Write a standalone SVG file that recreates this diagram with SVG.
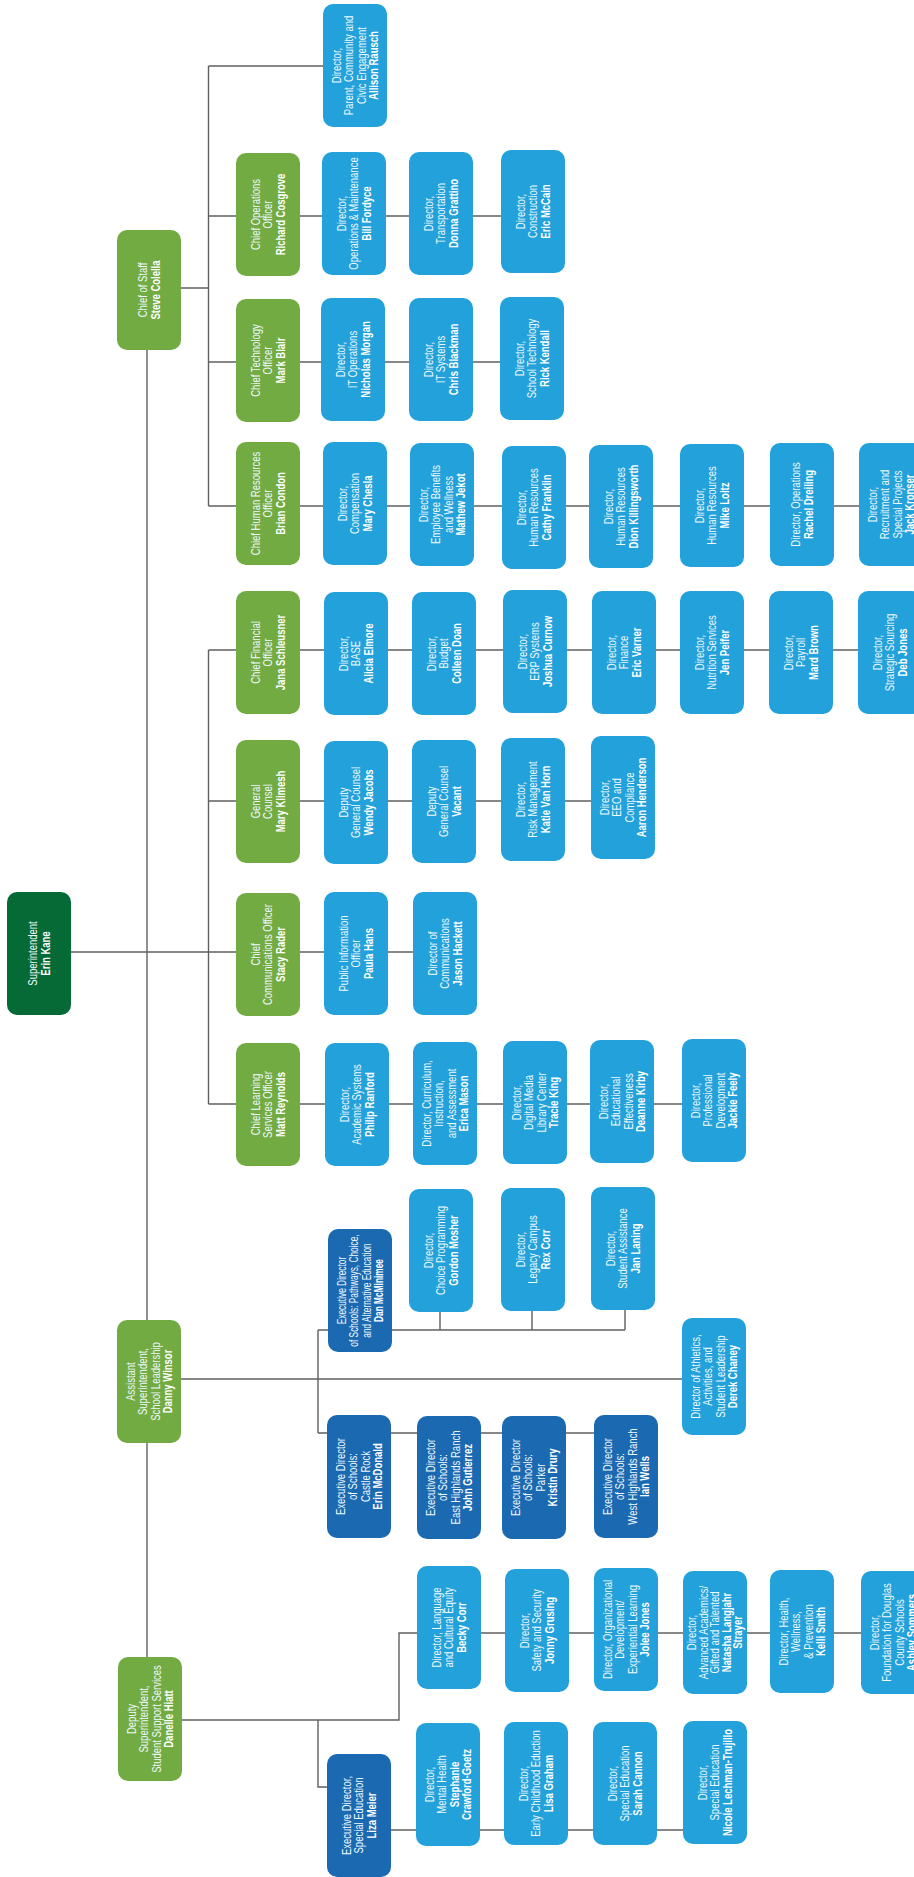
<svg xmlns="http://www.w3.org/2000/svg" width="914" height="1877" viewBox="0 0 914 1877">
<style>
.gd{fill:#066a37}.g{fill:#72ab42}.b{fill:#22a1da}.db{fill:#1b69b1}
text{font-family:"Liberation Sans",Arial,sans-serif;font-size:13px;fill:#fff;text-anchor:middle}
.t{fill:#eef8fd}
.n{font-weight:bold;fill:#fff}
.c path{stroke:#606060;stroke-width:1.4;fill:none}
</style>
<rect width="914" height="1877" fill="#fff"/>
<g id="connectors" class="c">
<path d="M147 350V1657"/>
<path d="M181 288H208.5M208.5 66V506M208.5 66H323M208.5 216H501M208.5 362H500M208.5 506H859"/>
<path d="M71 952H413M208.5 650V1104M208.5 650H858M208.5 801H591M208.5 1104H682"/>
<path d="M181 1379H682M318 1330V1433M318 1330H625M440 1312V1330M532 1311V1330M625 1309V1330M318 1433H594"/>
<path d="M182 1720H399V1633H861M318 1720V1787H327M391 1830H683"/>
</g>

<g id="superintendent"><rect class="gd" x="7" y="892" width="64" height="123" rx="10"/>
<text transform="translate(39,953.5) rotate(-90) scale(.73,1)"><tspan class="t" x="0" y="-2">Superintendent</tspan><tspan class="n" x="0" y="10.5">Erin Kane</tspan></text></g>

<g id="chief-of-staff"><rect class="g" x="117" y="230" width="64" height="120" rx="10"/>
<text transform="translate(149,290) rotate(-90) scale(.73,1)"><tspan class="t" x="0" y="-2">Chief of Staff</tspan><tspan class="n" x="0" y="10.5">Steve Colella</tspan></text></g>

<g id="asst-supt"><rect class="g" x="117" y="1320" width="64" height="123" rx="10"/>
<text transform="translate(149,1381.5) rotate(-90) scale(.73,1)"><tspan class="t" x="0" y="-14.5">Assistant</tspan><tspan class="t" x="0" y="-2">Superintendent,</tspan><tspan class="t" x="0" y="10.5">School Leadership</tspan><tspan class="n" x="0" y="23">Danny Winsor</tspan></text></g>

<g id="deputy-supt"><rect class="g" x="118" y="1657" width="64" height="124" rx="10"/>
<text transform="translate(150,1719) rotate(-90) scale(.73,1)"><tspan class="t" x="0" y="-14.5">Deputy</tspan><tspan class="t" x="0" y="-2">Superintendent,</tspan><tspan class="t" x="0" y="10.5">Student Support Services</tspan><tspan class="n" x="0" y="23">Danelle Hiatt</tspan></text></g>

<g id="coo"><rect class="g" x="236" y="153" width="64" height="123" rx="10"/>
<text transform="translate(268,214.5) rotate(-90) scale(.73,1)"><tspan class="t" x="0" y="-8.25">Chief Operations</tspan><tspan class="t" x="0" y="4.25">Officer</tspan><tspan class="n" x="0" y="16.75">Richard Cosgrove</tspan></text></g>

<g id="cto"><rect class="g" x="236" y="299" width="64" height="123" rx="10"/>
<text transform="translate(268,360.5) rotate(-90) scale(.73,1)"><tspan class="t" x="0" y="-8.25">Chief Technology</tspan><tspan class="t" x="0" y="4.25">Officer</tspan><tspan class="n" x="0" y="16.75">Mark Blair</tspan></text></g>

<g id="chro"><rect class="g" x="236" y="442" width="64" height="123" rx="10"/>
<text transform="translate(268,503.5) rotate(-90) scale(.73,1)"><tspan class="t" x="0" y="-8.25">Chief Human Resources</tspan><tspan class="t" x="0" y="4.25">Officer</tspan><tspan class="n" x="0" y="16.75">Brian Condon</tspan></text></g>

<g id="cfo"><rect class="g" x="236" y="591" width="64" height="123" rx="10"/>
<text transform="translate(268,652.5) rotate(-90) scale(.73,1)"><tspan class="t" x="0" y="-8.25">Chief Financial</tspan><tspan class="t" x="0" y="4.25">Officer</tspan><tspan class="n" x="0" y="16.75">Jana Schleusner</tspan></text></g>

<g id="gc"><rect class="g" x="236" y="740" width="64" height="123" rx="10"/>
<text transform="translate(268,801.5) rotate(-90) scale(.73,1)"><tspan class="t" x="0" y="-8.25">General</tspan><tspan class="t" x="0" y="4.25">Counsel</tspan><tspan class="n" x="0" y="16.75">Mary Klimesh</tspan></text></g>

<g id="cco"><rect class="g" x="236" y="893" width="64" height="123" rx="10"/>
<text transform="translate(268,954.5) rotate(-90) scale(.73,1)"><tspan class="t" x="0" y="-8.25">Chief</tspan><tspan class="t" x="0" y="4.25">Communications Officer</tspan><tspan class="n" x="0" y="16.75">Stacy Rader</tspan></text></g>

<g id="clso"><rect class="g" x="236" y="1043" width="64" height="123" rx="10"/>
<text transform="translate(268,1104.5) rotate(-90) scale(.73,1)"><tspan class="t" x="0" y="-8.25">Chief Learning</tspan><tspan class="t" x="0" y="4.25">Services Officer</tspan><tspan class="n" x="0" y="16.75">Matt Reynolds</tspan></text></g>

<g id="allison-rausch"><rect class="b" x="323" y="4" width="64" height="123" rx="10"/>
<text transform="translate(355,65.5) rotate(-90) scale(.73,1)"><tspan class="t" x="0" y="-14.5">Director,</tspan><tspan class="t" x="0" y="-2">Parent, Community and</tspan><tspan class="t" x="0" y="10.5">Civic Engagement</tspan><tspan class="n" x="0" y="23">Allison Rausch</tspan></text></g>

<g id="bill-fordyce"><rect class="b" x="322" y="152" width="64" height="123" rx="10"/>
<text transform="translate(354,213.5) rotate(-90) scale(.73,1)"><tspan class="t" x="0" y="-8.25">Director,</tspan><tspan class="t" x="0" y="4.25">Operations &amp; Maintenance</tspan><tspan class="n" x="0" y="16.75">Bill Fordyce</tspan></text></g>

<g id="donna-grattino"><rect class="b" x="409" y="152" width="64" height="123" rx="10"/>
<text transform="translate(441,213.5) rotate(-90) scale(.73,1)"><tspan class="t" x="0" y="-8.25">Director,</tspan><tspan class="t" x="0" y="4.25">Transportation</tspan><tspan class="n" x="0" y="16.75">Donna Grattino</tspan></text></g>

<g id="eric-mccain"><rect class="b" x="501" y="150" width="64" height="123" rx="10"/>
<text transform="translate(533,211.5) rotate(-90) scale(.73,1)"><tspan class="t" x="0" y="-8.25">Director,</tspan><tspan class="t" x="0" y="4.25">Construction</tspan><tspan class="n" x="0" y="16.75">Eric McCain</tspan></text></g>

<g id="nicholas-morgan"><rect class="b" x="321" y="298" width="64" height="123" rx="10"/>
<text transform="translate(353,359.5) rotate(-90) scale(.73,1)"><tspan class="t" x="0" y="-8.25">Director,</tspan><tspan class="t" x="0" y="4.25">IT Operations</tspan><tspan class="n" x="0" y="16.75">Nicholas Morgan</tspan></text></g>

<g id="chris-blackman"><rect class="b" x="409" y="298" width="64" height="123" rx="10"/>
<text transform="translate(441,359.5) rotate(-90) scale(.73,1)"><tspan class="t" x="0" y="-8.25">Director,</tspan><tspan class="t" x="0" y="4.25">IT Systems</tspan><tspan class="n" x="0" y="16.75">Chris Blackman</tspan></text></g>

<g id="rick-kendall"><rect class="b" x="500" y="297" width="64" height="123" rx="10"/>
<text transform="translate(532,358.5) rotate(-90) scale(.73,1)"><tspan class="t" x="0" y="-8.25">Director,</tspan><tspan class="t" x="0" y="4.25">School Technology</tspan><tspan class="n" x="0" y="16.75">Rick Kendall</tspan></text></g>

<g id="mary-chesla"><rect class="b" x="323" y="442" width="64" height="123" rx="10"/>
<text transform="translate(355,503.5) rotate(-90) scale(.73,1)"><tspan class="t" x="0" y="-8.25">Director,</tspan><tspan class="t" x="0" y="4.25">Compensation</tspan><tspan class="n" x="0" y="16.75">Mary Chesla</tspan></text></g>

<g id="mathew-jekot"><rect class="b" x="410" y="443" width="64" height="123" rx="10"/>
<text transform="translate(442,504.5) rotate(-90) scale(.73,1)"><tspan class="t" x="0" y="-14.5">Director,</tspan><tspan class="t" x="0" y="-2">Employee Benefits</tspan><tspan class="t" x="0" y="10.5">and Wellness</tspan><tspan class="n" x="0" y="23">Mathew Jekot</tspan></text></g>

<g id="cathy-franklin"><rect class="b" x="502" y="446" width="64" height="123" rx="10"/>
<text transform="translate(534,507.5) rotate(-90) scale(.73,1)"><tspan class="t" x="0" y="-8.25">Director,</tspan><tspan class="t" x="0" y="4.25">Human Resources</tspan><tspan class="n" x="0" y="16.75">Cathy Franklin</tspan></text></g>

<g id="dion-killingsworth"><rect class="b" x="589" y="445" width="64" height="123" rx="10"/>
<text transform="translate(621,506.5) rotate(-90) scale(.73,1)"><tspan class="t" x="0" y="-8.25">Director,</tspan><tspan class="t" x="0" y="4.25">Human Resources</tspan><tspan class="n" x="0" y="16.75">Dion Killingsworth</tspan></text></g>

<g id="mike-loitz"><rect class="b" x="680" y="444" width="64" height="123" rx="10"/>
<text transform="translate(712,505.5) rotate(-90) scale(.73,1)"><tspan class="t" x="0" y="-8.25">Director,</tspan><tspan class="t" x="0" y="4.25">Human Resources</tspan><tspan class="n" x="0" y="16.75">Mike Loitz</tspan></text></g>

<g id="rachel-dreiling"><rect class="b" x="770" y="443" width="64" height="123" rx="10"/>
<text transform="translate(802,504.5) rotate(-90) scale(.73,1)"><tspan class="t" x="0" y="-2">Director, Operations</tspan><tspan class="n" x="0" y="10.5">Rachel Dreiling</tspan></text></g>

<g id="jack-kronser"><rect class="b" x="859" y="443" width="64" height="123" rx="10"/>
<text transform="translate(891,504.5) rotate(-90) scale(.73,1)"><tspan class="t" x="0" y="-14.5">Director,</tspan><tspan class="t" x="0" y="-2">Recruitment and</tspan><tspan class="t" x="0" y="10.5">Special Projects</tspan><tspan class="n" x="0" y="23">Jack Kronser</tspan></text></g>

<g id="alicia-elmore"><rect class="b" x="324" y="592" width="64" height="123" rx="10"/>
<text transform="translate(356,653.5) rotate(-90) scale(.73,1)"><tspan class="t" x="0" y="-8.25">Director,</tspan><tspan class="t" x="0" y="4.25">BASE</tspan><tspan class="n" x="0" y="16.75">Alicia Elmore</tspan></text></g>

<g id="colleen-doan"><rect class="b" x="412" y="592" width="64" height="123" rx="10"/>
<text transform="translate(444,653.5) rotate(-90) scale(.73,1)"><tspan class="t" x="0" y="-8.25">Director,</tspan><tspan class="t" x="0" y="4.25">Budget</tspan><tspan class="n" x="0" y="16.75">Colleen Doan</tspan></text></g>

<g id="joshua-curnow"><rect class="b" x="503" y="590" width="64" height="123" rx="10"/>
<text transform="translate(535,651.5) rotate(-90) scale(.73,1)"><tspan class="t" x="0" y="-8.25">Director,</tspan><tspan class="t" x="0" y="4.25">ERP Systems</tspan><tspan class="n" x="0" y="16.75">Joshua Curnow</tspan></text></g>

<g id="eric-varner"><rect class="b" x="592" y="591" width="64" height="123" rx="10"/>
<text transform="translate(624,652.5) rotate(-90) scale(.73,1)"><tspan class="t" x="0" y="-8.25">Director,</tspan><tspan class="t" x="0" y="4.25">Finance</tspan><tspan class="n" x="0" y="16.75">Eric Varner</tspan></text></g>

<g id="jen-peifer"><rect class="b" x="680" y="591" width="64" height="123" rx="10"/>
<text transform="translate(712,652.5) rotate(-90) scale(.73,1)"><tspan class="t" x="0" y="-8.25">Director,</tspan><tspan class="t" x="0" y="4.25">Nutrition Services</tspan><tspan class="n" x="0" y="16.75">Jen Peifer</tspan></text></g>

<g id="mard-brown"><rect class="b" x="769" y="591" width="64" height="123" rx="10"/>
<text transform="translate(801,652.5) rotate(-90) scale(.73,1)"><tspan class="t" x="0" y="-8.25">Director,</tspan><tspan class="t" x="0" y="4.25">Payroll</tspan><tspan class="n" x="0" y="16.75">Mard Brown</tspan></text></g>

<g id="deb-jones"><rect class="b" x="858" y="591" width="64" height="123" rx="10"/>
<text transform="translate(890,652.5) rotate(-90) scale(.73,1)"><tspan class="t" x="0" y="-8.25">Director,</tspan><tspan class="t" x="0" y="4.25">Strategic Sourcing</tspan><tspan class="n" x="0" y="16.75">Deb Jones</tspan></text></g>

<g id="wendy-jacobs"><rect class="b" x="324" y="741" width="64" height="123" rx="10"/>
<text transform="translate(356,802.5) rotate(-90) scale(.73,1)"><tspan class="t" x="0" y="-8.25">Deputy</tspan><tspan class="t" x="0" y="4.25">General Counsel</tspan><tspan class="n" x="0" y="16.75">Wendy Jacobs</tspan></text></g>

<g id="vacant"><rect class="b" x="412" y="740" width="64" height="123" rx="10"/>
<text transform="translate(444,801.5) rotate(-90) scale(.73,1)"><tspan class="t" x="0" y="-8.25">Deputy</tspan><tspan class="t" x="0" y="4.25">General Counsel</tspan><tspan class="n" x="0" y="16.75">Vacant</tspan></text></g>

<g id="katie-van-horn"><rect class="b" x="501" y="738" width="64" height="123" rx="10"/>
<text transform="translate(533,799.5) rotate(-90) scale(.73,1)"><tspan class="t" x="0" y="-8.25">Director,</tspan><tspan class="t" x="0" y="4.25">Risk Management</tspan><tspan class="n" x="0" y="16.75">Katie Van Horn</tspan></text></g>

<g id="aaron-henderson"><rect class="b" x="591" y="736" width="64" height="123" rx="10"/>
<text transform="translate(623,797.5) rotate(-90) scale(.73,1)"><tspan class="t" x="0" y="-14.5">Director,</tspan><tspan class="t" x="0" y="-2">EEO and</tspan><tspan class="t" x="0" y="10.5">Compliance</tspan><tspan class="n" x="0" y="23">Aaron Henderson</tspan></text></g>

<g id="paula-hans"><rect class="b" x="324" y="892" width="64" height="123" rx="10"/>
<text transform="translate(356,953.5) rotate(-90) scale(.73,1)"><tspan class="t" x="0" y="-8.25">Public Information</tspan><tspan class="t" x="0" y="4.25">Officer</tspan><tspan class="n" x="0" y="16.75">Paula Hans</tspan></text></g>

<g id="jason-hackett"><rect class="b" x="413" y="892" width="64" height="123" rx="10"/>
<text transform="translate(445,953.5) rotate(-90) scale(.73,1)"><tspan class="t" x="0" y="-8.25">Director of</tspan><tspan class="t" x="0" y="4.25">Communications</tspan><tspan class="n" x="0" y="16.75">Jason Hackett</tspan></text></g>

<g id="philip-ranford"><rect class="b" x="325" y="1043" width="64" height="123" rx="10"/>
<text transform="translate(357,1104.5) rotate(-90) scale(.73,1)"><tspan class="t" x="0" y="-8.25">Director,</tspan><tspan class="t" x="0" y="4.25">Academic Systems</tspan><tspan class="n" x="0" y="16.75">Philip Ranford</tspan></text></g>

<g id="erica-mason"><rect class="b" x="413" y="1042" width="64" height="123" rx="10"/>
<text transform="translate(445,1103.5) rotate(-90) scale(.73,1)"><tspan class="t" x="0" y="-14.5">Director, Curriculum,</tspan><tspan class="t" x="0" y="-2">Instruction,</tspan><tspan class="t" x="0" y="10.5">and Assessment</tspan><tspan class="n" x="0" y="23">Erica Mason</tspan></text></g>

<g id="tracie-king"><rect class="b" x="503" y="1041" width="64" height="123" rx="10"/>
<text transform="translate(535,1102.5) rotate(-90) scale(.73,1)"><tspan class="t" x="0" y="-14.5">Director,</tspan><tspan class="t" x="0" y="-2">Digital Media</tspan><tspan class="t" x="0" y="10.5">Library Center</tspan><tspan class="n" x="0" y="23">Tracie King</tspan></text></g>

<g id="deanne-kirby"><rect class="b" x="590" y="1040" width="64" height="123" rx="10"/>
<text transform="translate(622,1101.5) rotate(-90) scale(.73,1)"><tspan class="t" x="0" y="-14.5">Director,</tspan><tspan class="t" x="0" y="-2">Educational</tspan><tspan class="t" x="0" y="10.5">Effectiveness</tspan><tspan class="n" x="0" y="23">Deanne Kirby</tspan></text></g>

<g id="jackie-feely"><rect class="b" x="682" y="1039" width="64" height="123" rx="10"/>
<text transform="translate(714,1100.5) rotate(-90) scale(.73,1)"><tspan class="t" x="0" y="-14.5">Director,</tspan><tspan class="t" x="0" y="-2">Professional</tspan><tspan class="t" x="0" y="10.5">Development</tspan><tspan class="n" x="0" y="23">Jackie Feely</tspan></text></g>

<g id="dan-mcminimee"><rect class="db" x="328" y="1229" width="64" height="123" rx="10"/>
<text transform="translate(360,1290.5) rotate(-90) scale(.64,1)"><tspan class="t" x="0" y="-14.5">Executive Director</tspan><tspan class="t" x="0" y="-2">of Schools: Pathways, Choice,</tspan><tspan class="t" x="0" y="10.5">and Alternative Education</tspan><tspan class="n" x="0" y="23">Dan McMinimee</tspan></text></g>

<g id="gordon-mosher"><rect class="b" x="409" y="1189" width="64" height="123" rx="10"/>
<text transform="translate(441,1250.5) rotate(-90) scale(.73,1)"><tspan class="t" x="0" y="-8.25">Director,</tspan><tspan class="t" x="0" y="4.25">Choice Programming</tspan><tspan class="n" x="0" y="16.75">Gordon Mosher</tspan></text></g>

<g id="rex-corr"><rect class="b" x="501" y="1188" width="64" height="123" rx="10"/>
<text transform="translate(533,1249.5) rotate(-90) scale(.73,1)"><tspan class="t" x="0" y="-8.25">Director,</tspan><tspan class="t" x="0" y="4.25">Legacy Campus</tspan><tspan class="n" x="0" y="16.75">Rex Corr</tspan></text></g>

<g id="jan-laning"><rect class="b" x="591" y="1187" width="64" height="123" rx="10"/>
<text transform="translate(623,1248.5) rotate(-90) scale(.73,1)"><tspan class="t" x="0" y="-8.25">Director,</tspan><tspan class="t" x="0" y="4.25">Student Assistance</tspan><tspan class="n" x="0" y="16.75">Jan Laning</tspan></text></g>

<g id="derek-chaney"><rect class="b" x="682" y="1318" width="64" height="117" rx="10"/>
<text transform="translate(714,1376.5) rotate(-90) scale(.73,1)"><tspan class="t" x="0" y="-14.5">Director of Athletics,</tspan><tspan class="t" x="0" y="-2">Activities, and</tspan><tspan class="t" x="0" y="10.5">Student Leadership</tspan><tspan class="n" x="0" y="23">Derek Chaney</tspan></text></g>

<g id="erin-mcdonald"><rect class="db" x="327" y="1415" width="64" height="123" rx="10"/>
<text transform="translate(359,1476.5) rotate(-90) scale(.73,1)"><tspan class="t" x="0" y="-14.5">Executive Director</tspan><tspan class="t" x="0" y="-2">of Schools:</tspan><tspan class="t" x="0" y="10.5">Castle Rock</tspan><tspan class="n" x="0" y="23">Erin McDonald</tspan></text></g>

<g id="john-gutierrez"><rect class="db" x="417" y="1416" width="64" height="123" rx="10"/>
<text transform="translate(449,1477.5) rotate(-90) scale(.73,1)"><tspan class="t" x="0" y="-14.5">Executive Director</tspan><tspan class="t" x="0" y="-2">of Schools:</tspan><tspan class="t" x="0" y="10.5">East Highlands Ranch</tspan><tspan class="n" x="0" y="23">John Gutierrez</tspan></text></g>

<g id="kristin-drury"><rect class="db" x="502" y="1416" width="64" height="123" rx="10"/>
<text transform="translate(534,1477.5) rotate(-90) scale(.73,1)"><tspan class="t" x="0" y="-14.5">Executive Director</tspan><tspan class="t" x="0" y="-2">of Schools:</tspan><tspan class="t" x="0" y="10.5">Parker</tspan><tspan class="n" x="0" y="23">Kristin Drury</tspan></text></g>

<g id="ian-wells"><rect class="db" x="594" y="1415" width="64" height="123" rx="10"/>
<text transform="translate(626,1476.5) rotate(-90) scale(.73,1)"><tspan class="t" x="0" y="-14.5">Executive Director</tspan><tspan class="t" x="0" y="-2">of Schools:</tspan><tspan class="t" x="0" y="10.5">West Highlands Ranch</tspan><tspan class="n" x="0" y="23">Ian Wells</tspan></text></g>

<g id="becky-corr"><rect class="b" x="417" y="1566" width="64" height="123" rx="10"/>
<text transform="translate(449,1627.5) rotate(-90) scale(.73,1)"><tspan class="t" x="0" y="-8.25">Director, Language</tspan><tspan class="t" x="0" y="4.25">and Cultural Equity</tspan><tspan class="n" x="0" y="16.75">Becky Corr</tspan></text></g>

<g id="jonny-grusing"><rect class="b" x="505" y="1569" width="64" height="123" rx="10"/>
<text transform="translate(537,1630.5) rotate(-90) scale(.73,1)"><tspan class="t" x="0" y="-8.25">Director,</tspan><tspan class="t" x="0" y="4.25">Safety and Security</tspan><tspan class="n" x="0" y="16.75">Jonny Grusing</tspan></text></g>

<g id="jolee-jones"><rect class="b" x="594" y="1568" width="64" height="123" rx="10"/>
<text transform="translate(626,1629.5) rotate(-90) scale(.73,1)"><tspan class="t" x="0" y="-14.5">Director, Organizational</tspan><tspan class="t" x="0" y="-2">Development/</tspan><tspan class="t" x="0" y="10.5">Experiential Learning</tspan><tspan class="n" x="0" y="23">Jolee Jones</tspan></text></g>

<g id="natasha-langjahr-strayer"><rect class="b" x="683" y="1571" width="64" height="123" rx="10"/>
<text transform="translate(715,1632.5) rotate(-90) scale(.73,1)"><tspan class="t" x="0" y="-18.75">Director,</tspan><tspan class="t" x="0" y="-7.25">Advanced Academics/</tspan><tspan class="t" x="0" y="4.25">Gifted and Talented</tspan><tspan class="n" x="0" y="15.75">Natasha Langjahr</tspan><tspan class="n" x="0" y="27.25">Strayer</tspan></text></g>

<g id="kelli-smith"><rect class="b" x="770" y="1570" width="64" height="123" rx="10"/>
<text transform="translate(802,1631.5) rotate(-90) scale(.73,1)"><tspan class="t" x="0" y="-14.5">Director, Health,</tspan><tspan class="t" x="0" y="-2">Wellness,</tspan><tspan class="t" x="0" y="10.5">&amp; Prevention</tspan><tspan class="n" x="0" y="23">Kelli Smith</tspan></text></g>

<g id="ashley-sommers"><rect class="b" x="861" y="1571" width="64" height="123" rx="10"/>
<text transform="translate(893,1632.5) rotate(-90) scale(.73,1)"><tspan class="t" x="0" y="-14.5">Director,</tspan><tspan class="t" x="0" y="-2">Foundation for Douglas</tspan><tspan class="t" x="0" y="10.5">County Schools</tspan><tspan class="n" x="0" y="23">Ashley Sommers</tspan></text></g>

<g id="liza-meier"><rect class="db" x="327" y="1754" width="64" height="123" rx="10"/>
<text transform="translate(359,1815.5) rotate(-90) scale(.73,1)"><tspan class="t" x="0" y="-8.25">Executive Director,</tspan><tspan class="t" x="0" y="4.25">Special Education</tspan><tspan class="n" x="0" y="16.75">Liza Meier</tspan></text></g>

<g id="stephanie-crawford-goetz"><rect class="b" x="416" y="1723" width="64" height="123" rx="10"/>
<text transform="translate(448,1784.5) rotate(-90) scale(.73,1)"><tspan class="t" x="0" y="-14.5">Director,</tspan><tspan class="t" x="0" y="-2">Mental Health</tspan><tspan class="n" x="0" y="10.5">Stephanie</tspan><tspan class="n" x="0" y="23">Crawford-Goetz</tspan></text></g>

<g id="lisa-graham"><rect class="b" x="504" y="1722" width="64" height="123" rx="10"/>
<text transform="translate(536,1783.5) rotate(-90) scale(.73,1)"><tspan class="t" x="0" y="-8.25">Director,</tspan><tspan class="t" x="0" y="4.25">Early Childhood Eduction</tspan><tspan class="n" x="0" y="16.75">Lisa Graham</tspan></text></g>

<g id="sarah-cannon"><rect class="b" x="593" y="1722" width="64" height="123" rx="10"/>
<text transform="translate(625,1783.5) rotate(-90) scale(.73,1)"><tspan class="t" x="0" y="-8.25">Director,</tspan><tspan class="t" x="0" y="4.25">Special Education</tspan><tspan class="n" x="0" y="16.75">Sarah Cannon</tspan></text></g>

<g id="nicole-lechman-trujillo"><rect class="b" x="683" y="1721" width="64" height="123" rx="10"/>
<text transform="translate(715,1782.5) rotate(-90) scale(.73,1)"><tspan class="t" x="0" y="-8.25">Director,</tspan><tspan class="t" x="0" y="4.25">Special Education</tspan><tspan class="n" x="0" y="16.75">Nicole Lechman-Trujillo</tspan></text></g>
</svg>
